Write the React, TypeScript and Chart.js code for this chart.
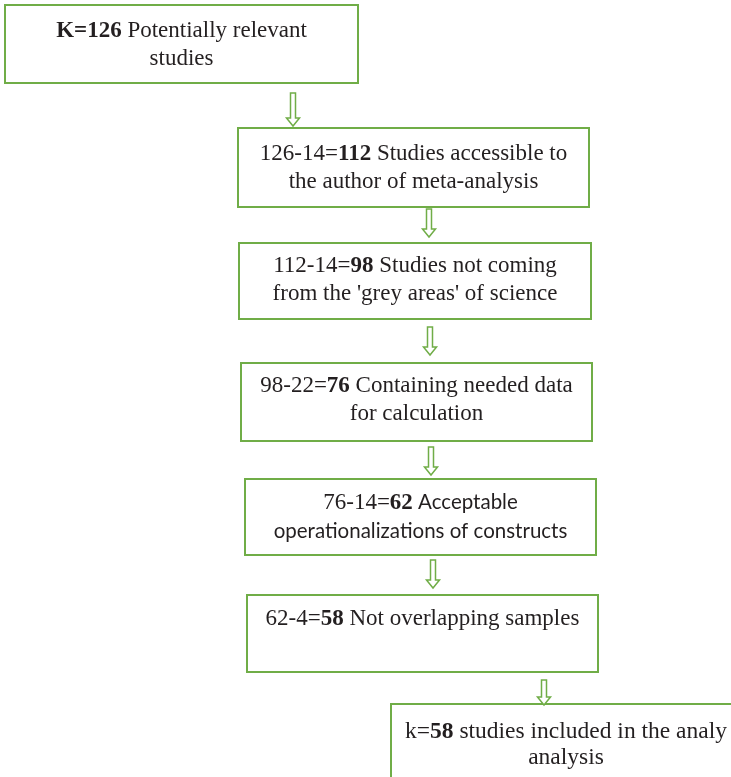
import React, { useEffect, useRef } from "react";
import { Chart, registerables } from "chart.js";

Chart.register(...registerables);

// ---- data (counts in the screening flow) ----
const stageTotals = [126, 112, 98, 76, 62, 58, 58];
const stageRemoved = [null, 14, 14, 22, 14, 4, null];
const stageLine1Tail = [
  " Potentially relevant",
  " Studies accessible to",
  " Studies not coming",
  " Containing needed data",
  " Acceptable",
  " Not overlapping samples",
  " studies included in the analy",
];
const stageLine2 = [
  "studies",
  "the author of meta-analysis",
  "from the 'grey areas' of science",
  "for calculation",
  "operationalizations of constructs",
  "",
  "analysis",
];

// ---- layout (page pixels) ----
const boxLeft = [5, 238, 239, 241, 245, 247, 391];
const boxRight = [358, 589, 591, 592, 596, 598, 741];
const boxTop = [5, 128, 243, 363, 479, 595, 704];
const boxBottom = [83, 207, 319, 441, 555, 672, 800];
const line1Base = [37, 160, 272, 392, 509, 625, 738];
const line2Base = [65, 188, 300, 420, 538, 0, 764];
const arrowX = [293, 429, 430, 431, 433, 544];
const arrowTop = [93, 209, 327, 447, 560, 680];
const arrowTip = [126, 237, 355, 475, 588, 705];

const GREEN = "#70AD47";
const SERIF = "'Liberation Serif', 'Times New Roman', serif";
const SANS = "Lato, 'Liberation Sans', sans-serif";

type Run = { t: string; bold?: boolean; sans?: boolean };

function lineRuns(i: number): Run[][] {
  const tot = String(stageTotals[i]);
  const rem = stageRemoved[i];
  let l1: Run[];
  if (i === 0) {
    l1 = [{ t: "K=" + tot, bold: true }, { t: stageLine1Tail[i] }];
  } else if (i === stageTotals.length - 1) {
    l1 = [{ t: "k=" }, { t: tot, bold: true }, { t: stageLine1Tail[i] }];
  } else {
    const prev = String(stageTotals[i - 1]);
    l1 = [
      { t: prev + "-" + rem + "=" },
      { t: tot, bold: true },
      { t: stageLine1Tail[i], sans: i === 4 },
    ];
  }
  const lines: Run[][] = [l1];
  if (stageLine2[i]) lines.push([{ t: stageLine2[i], sans: i === 4 }]);
  return lines;
}

function fontFor(r: Run, i: number) {
  if (r.sans) return `${r.bold ? "bold " : ""}20.5px ${SANS}`;
  const size = i === stageTotals.length - 1 ? 23.5 : 23;
  return `${r.bold ? "bold " : ""}${size}px ${SERIF}`;
}

const flowPlugin = {
  id: "flow",
  afterDraw(chart: any) {
    const ctx: CanvasRenderingContext2D = chart.ctx;
    const xs = chart.scales.x;
    const ys = chart.scales.y;
    const px = (v: number) => xs.getPixelForValue(v);
    const py = (v: number) => ys.getPixelForValue(v);
    ctx.save();
    // boxes
    for (let i = 0; i < stageTotals.length; i++) {
      const x0 = px(boxLeft[i]);
      const x1 = px(boxRight[i]);
      const y0 = py(boxTop[i]);
      const y1 = py(boxBottom[i]);
      ctx.fillStyle = "#ffffff";
      ctx.fillRect(x0, y0, x1 - x0, y1 - y0);
      ctx.strokeStyle = GREEN;
      ctx.lineWidth = 2;
      ctx.strokeRect(x0, y0, x1 - x0, y1 - y0);
      // text
      const cx = (x0 + x1) / 2;
      const lines = lineRuns(i);
      const bases = [line1Base[i], line2Base[i]];
      ctx.fillStyle = "#231f20";
      ctx.textBaseline = "alphabetic";
      ctx.textAlign = "left";
      lines.forEach((runs, li) => {
        let w = 0;
        runs.forEach((r) => {
          ctx.font = fontFor(r, i);
          w += ctx.measureText(r.t).width;
        });
        let x = cx - w / 2;
        const y = py(bases[li]);
        runs.forEach((r) => {
          ctx.font = fontFor(r, i);
          ctx.fillText(r.t, x, y);
          x += ctx.measureText(r.t).width;
        });
      });
    }
    // arrows (hollow block arrows)
    for (let i = 0; i < arrowX.length; i++) {
      const cx = px(arrowX[i]);
      const t = py(arrowTop[i]);
      const tip = py(arrowTip[i]);
      const sw = 2.5;
      const hw = 6.5;
      const hl = 8;
      const hs = tip - hl;
      ctx.beginPath();
      ctx.moveTo(cx - sw, t);
      ctx.lineTo(cx + sw, t);
      ctx.lineTo(cx + sw, hs);
      ctx.lineTo(cx + hw, hs);
      ctx.lineTo(cx, tip);
      ctx.lineTo(cx - hw, hs);
      ctx.lineTo(cx - sw, hs);
      ctx.closePath();
      ctx.fillStyle = "#ffffff";
      ctx.fill();
      ctx.strokeStyle = GREEN;
      ctx.lineWidth = 1.5;
      ctx.stroke();
    }
    ctx.restore();
  },
};

export default function App() {
  const ref = useRef<HTMLCanvasElement | null>(null);
  useEffect(() => {
    document.body.style.margin = "0";
    const canvas = ref.current;
    if (!canvas) return;
    const chart = new Chart(canvas, {
      type: "scatter",
      data: { datasets: [{ data: [], pointRadius: 0 }] },
      options: {
        responsive: false,
        animation: false,
        layout: { padding: 0 },
        plugins: { legend: { display: false }, tooltip: { enabled: false } },
        scales: {
          x: { type: "linear", min: 0, max: 731, display: false },
          y: { type: "linear", min: 0, max: 777, reverse: true, display: false },
        },
      },
      plugins: [flowPlugin],
    });
    return () => chart.destroy();
  }, []);
  return (
    <div style={{ width: 731, height: 777, background: "#fff" }}>
      <canvas ref={ref} width={731} height={777} style={{ display: "block" }} />
    </div>
  );
}
